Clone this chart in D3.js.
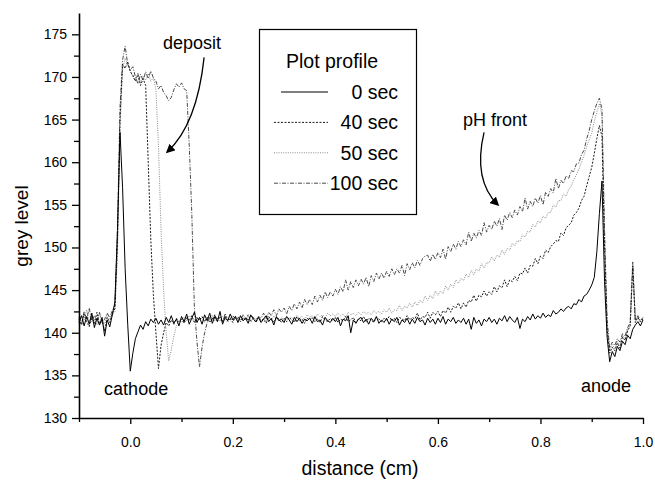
<!DOCTYPE html>
<html>
<head>
<meta charset="utf-8">
<script src="https://cdnjs.cloudflare.com/ajax/libs/d3/7.8.5/d3.min.js"></script>
<style>
	body { margin: 0; background: white; }
	text { font-family: "Liberation Sans", Arial, sans-serif; }
</style>
</head>
<body>
<div id="chart"></div>
<script>

// profiles are sampled from -0.1 cm every 0.005 cm (221 samples)
let distStart = -0.1
let distStep = 0.005

let grey0sec = [
	141.2, 142.0, 140.8, 141.9, 141.0, 142.3, 140.6, 141.7, 140.9, 141.8,
	139.6, 141.5, 140.7, 142.1, 143.6, 152.0, 163.5, 157.0, 147.5, 141.0,
	135.5, 137.6, 139.3, 140.1, 140.9, 140.4, 141.3, 140.8, 141.6, 141.2,
	141.7, 141.0, 141.5, 140.9, 141.8, 141.2, 142.0, 141.1, 141.6, 140.8,
	141.9, 141.3, 142.2, 141.0, 141.7, 142.4, 141.2, 141.8, 141.0, 142.1,
	141.4, 142.3, 141.1, 141.9, 141.3, 142.5, 141.0, 141.8, 141.4, 142.2,
	141.5, 141.9, 141.2, 142.0, 141.4, 141.7, 141.1, 142.1, 141.6, 141.3,
	141.8, 141.2, 141.6, 142.0, 141.3, 141.7, 140.9, 141.9, 141.4, 141.6,
	141.2, 141.9, 141.5, 141.0, 141.8, 141.3, 141.7, 141.1, 141.6, 141.4,
	141.7, 141.1, 141.9, 141.3, 141.5, 140.9, 141.8, 141.4, 141.2, 141.7,
	141.3, 141.8, 140.8, 141.6, 141.4, 142.0, 140.0, 141.5, 141.1, 141.6,
	141.8, 141.2, 141.6, 141.0, 141.7, 141.3, 141.9, 141.1, 141.5, 141.2,
	141.7, 141.0, 141.6, 141.3, 141.8, 140.9, 141.5, 141.2, 141.7, 141.0,
	141.6, 141.1, 141.8, 141.3, 141.5, 140.9, 141.7, 141.2, 141.6, 141.0,
	141.7, 141.2, 141.9, 141.0, 141.6, 141.3, 141.8, 141.1, 141.5, 141.2,
	141.7, 141.0, 141.6, 140.4, 141.8, 141.1, 141.5, 140.8, 141.6, 141.3,
	141.8, 141.2, 141.6, 141.0, 141.7, 141.4, 142.0, 141.3, 141.9, 141.5,
	141.2, 141.8, 140.5, 141.6, 141.3, 141.9, 141.5, 142.2, 141.6, 142.0,
	141.7, 142.3, 141.8, 142.1, 141.9, 142.6, 142.2, 142.4, 142.8, 142.5,
	142.9, 143.1, 142.8, 143.4, 143.3, 143.9, 143.6, 144.3, 144.5, 145.0,
	145.6, 146.5, 149.5, 154.0, 157.8, 146.0, 139.5, 136.6, 137.8, 137.2,
	138.4, 137.9, 139.0, 138.6, 139.7, 139.3, 140.4, 140.9, 141.3, 140.8,
	141.5
]

let grey40sec = [
	141.6, 140.9, 142.2, 141.3, 140.7, 141.9, 141.1, 142.4, 141.0, 141.5,
	140.2, 141.8, 141.2, 142.3, 142.8, 150.5, 165.0, 171.5, 171.0, 171.8,
	170.6, 170.2, 169.5, 170.3, 169.0, 169.8, 169.0, 160.0, 151.0, 144.5,
	140.0, 135.8, 138.5, 140.0, 141.2, 140.8, 141.5, 141.0, 141.7, 141.3,
	141.6, 141.1, 141.8, 141.4, 142.0, 141.2, 141.7, 141.5, 141.9, 141.3,
	141.8, 141.2, 141.6, 142.1, 141.4, 141.8, 141.3, 142.0, 141.5, 141.7,
	141.2, 141.9, 141.6, 141.3, 141.8, 141.5, 142.1, 141.4, 141.7, 141.2,
	141.8, 141.4, 141.6, 141.1, 141.9, 141.5, 141.3, 141.8, 141.6, 141.2,
	141.7, 141.3, 141.8, 141.5, 141.2, 141.9, 141.4, 141.6, 141.1, 141.7,
	141.5, 141.8, 141.3, 141.6, 141.2, 141.9, 141.5, 141.3, 141.7, 141.4,
	141.8, 141.2, 141.6, 141.4, 141.9, 141.3, 141.5, 141.8, 141.2, 141.6,
	141.4, 141.9, 141.3, 141.7, 141.5, 141.2, 141.8, 141.6, 141.3, 141.7,
	141.5, 141.9, 141.4, 141.7, 141.2, 141.8, 141.6, 141.4, 142.0, 141.5,
	141.8, 141.6, 142.3, 141.5, 141.9, 141.8, 142.4, 141.7, 142.4, 142.1,
	142.5, 141.9, 142.6, 142.3, 143.0, 142.4, 143.1, 142.9, 143.5, 142.8,
	143.5, 143.0, 143.8, 143.6, 144.4, 143.7, 144.4, 144.2, 144.9, 144.3,
	144.8, 144.5, 145.4, 144.8, 145.5, 145.3, 146.2, 145.4, 146.2, 146.0,
	146.6, 146.1, 147.0, 146.9, 147.6, 147.0, 147.9, 147.8, 148.7, 148.1,
	149.0, 148.7, 149.7, 149.4, 150.1, 150.4, 150.8, 150.7, 151.7, 151.4,
	152.3, 152.6, 152.9, 153.8, 154.1, 154.6, 155.5, 156.0, 157.2, 158.3,
	159.4, 161.0, 162.8, 164.3, 163.0, 150.0, 140.5, 137.6, 138.3, 137.9,
	138.8, 138.2, 139.5, 139.1, 140.2, 140.8, 147.8, 141.2, 141.8, 141.3,
	141.6
]

let grey50sec = [
	141.3, 142.0, 141.5, 142.7, 141.2, 142.1, 141.7, 140.9, 142.3, 141.4,
	141.0, 142.2, 141.5, 142.0, 142.5, 149.0, 164.0, 171.0, 172.2, 171.4,
	170.8, 170.0, 169.6, 170.5, 169.3, 170.1, 169.6, 170.4, 169.5, 169.9,
	168.5, 162.0, 152.0, 145.0, 140.0, 136.7, 138.0, 139.6, 140.8, 141.4,
	141.2, 141.8, 141.4, 142.0, 141.6, 141.3, 141.9, 141.5, 141.7, 141.2,
	141.8, 141.5, 142.1, 141.4, 141.7, 141.3, 141.9, 141.6, 141.2, 141.8,
	141.5, 141.7, 141.3, 141.9, 141.4, 141.8, 141.6, 141.2, 141.7, 141.5,
	141.9, 141.4, 141.7, 141.3, 141.8, 141.5, 142.0, 141.6, 141.4, 141.8,
	141.5, 141.9, 141.6, 141.8, 141.4, 142.0, 141.7, 141.9, 141.5, 142.1,
	141.8, 142.0, 141.6, 142.2, 141.9, 142.1, 141.8, 142.3, 142.0, 142.2,
	141.9, 142.3, 142.0, 142.2, 141.8, 142.4, 142.1, 142.3, 142.0, 142.4,
	142.1, 142.5, 142.2, 142.4, 142.1, 142.6, 142.3, 142.5, 142.2, 142.7,
	142.4, 142.9, 142.3, 142.7, 142.6, 143.2, 142.6, 143.1, 142.9, 143.5,
	143.0, 143.6, 143.2, 143.8, 143.5, 144.3, 143.8, 144.4, 144.0, 144.9,
	144.4, 144.9, 144.6, 145.5, 145.0, 145.7, 145.3, 146.2, 145.8, 146.4,
	146.1, 146.9, 146.5, 147.3, 146.8, 147.5, 147.2, 148.1, 147.6, 148.2,
	148.2, 148.9, 148.4, 149.1, 148.9, 149.7, 149.2, 149.9, 149.7, 150.5,
	150.2, 150.8, 150.7, 151.5, 151.2, 151.9, 151.8, 152.7, 152.4, 153.1,
	152.9, 153.7, 153.4, 154.1, 154.1, 155.0, 154.7, 155.5, 155.5, 156.3,
	156.0, 156.8, 157.2, 157.9, 158.5, 159.2, 160.0, 160.8, 161.8, 162.6,
	163.4, 164.8, 165.9, 166.9, 165.5, 151.0, 141.0, 137.9, 138.6, 138.1,
	139.0, 138.5, 139.7, 139.3, 140.4, 141.0, 148.0, 141.4, 141.9, 141.2,
	141.7
]

let grey100sec = [
	141.8, 141.0, 142.5, 141.6, 142.9, 141.3, 142.0, 141.5, 142.4, 141.1,
	141.6, 142.3, 141.8, 142.6, 143.2, 152.0, 166.5, 172.0, 173.6, 171.5,
	170.8, 171.2, 170.0, 169.2, 170.3, 169.6, 170.6, 169.8, 170.7, 169.9,
	169.5, 168.6, 169.0, 168.2, 167.8, 167.2, 167.6, 168.5, 169.2, 168.8,
	169.3, 168.6, 168.4, 162.0, 154.0, 143.0, 139.0, 136.0, 138.3, 140.0,
	141.2, 141.8, 141.4, 142.0, 141.6, 141.9, 141.3, 142.2, 141.7, 141.5,
	142.0, 141.6, 141.9, 141.4, 142.1, 141.7, 141.5, 142.0, 141.8, 141.6,
	141.9, 141.7, 142.3, 141.6, 142.4, 142.0, 142.7, 142.0, 142.8, 142.4,
	142.9, 142.2, 143.1, 142.6, 143.4, 142.8, 143.6, 142.9, 143.9, 143.3,
	143.9, 143.3, 144.3, 143.6, 144.4, 143.8, 144.8, 144.1, 144.8, 144.3,
	145.1, 144.5, 145.4, 144.8, 146.2, 145.0, 146.0, 145.3, 146.2, 145.5,
	146.3, 145.7, 146.5, 145.4, 146.7, 146.0, 147.0, 146.3, 147.0, 146.4,
	147.2, 146.6, 147.5, 146.8, 147.5, 147.0, 147.9, 146.7, 148.1, 147.4,
	148.2, 147.6, 148.5, 147.9, 148.7, 149.0, 149.1, 148.4, 149.2, 148.6,
	149.4, 148.8, 149.8, 148.6, 150.1, 149.5, 150.4, 149.8, 150.7, 150.1,
	150.9, 150.3, 151.8, 150.7, 151.7, 151.1, 152.0, 151.4, 152.9, 151.8,
	152.6, 152.1, 153.1, 152.5, 153.4, 152.1, 153.8, 153.2, 154.1, 153.5,
	154.4, 153.8, 154.8, 154.2, 155.8, 154.5, 155.4, 154.8, 155.8, 155.2,
	156.1, 155.0, 156.5, 156.0, 156.9, 156.4, 158.1, 156.9, 157.9, 157.5,
	158.4, 158.1, 159.0, 158.9, 159.8, 159.9, 160.9, 161.4, 162.7, 163.7,
	165.0, 166.0, 166.9, 167.5, 166.2, 152.0, 141.5, 138.2, 138.9, 138.5,
	139.3, 138.9, 139.9, 139.6, 140.6, 141.2, 148.3, 141.5, 142.0, 141.4,
	141.8
]

let seriesNames = ['0 sec', '40 sec', '50 sec', '100 sec']
let xTicks = [0.0, 0.2, 0.4, 0.6, 0.8, 1.0]
let xMinorTicks = [-0.1, 0.1, 0.3, 0.5, 0.7, 0.9]
let yTicks = [130, 135, 140, 145, 150, 155, 160, 165, 170, 175]
let yMinorTicks = [132.5, 137.5, 142.5, 147.5, 152.5, 157.5, 162.5, 167.5, 172.5]

// annotation anchors in data units
let notes = [
	{'text': 'deposit', 'x': 0.064, 'y': 173.3},
	{'text': 'pH front', 'x': 0.649, 'y': 164.2},
	{'text': 'cathode', 'x': -0.051, 'y': 132.7},
	{'text': 'anode', 'x': 0.879, 'y': 133.0}
]
let arrows = [
	[[0.144, 172.3], [0.130, 164.4], [0.072, 161.2]],
	[[0.690, 163.5], [0.668, 157.9], [0.717, 155.0]]
]

function createProfileChart(){

	let profiles = [grey0sec, grey40sec, grey50sec, grey100sec].map(function(vals, k){
		return {'name': seriesNames[k], 'points': vals.map((v, i) => [distStart + i * distStep, v])}
	})

	// line look per series: solid / dash / dot / dash-dot
	let styles = [
		{'color': '#000', 'dash': null, 'width': 1},
		{'color': '#1a1a1a', 'dash': '2,1.5', 'width': 1},
		{'color': '#8a8a8a', 'dash': '1,1.3', 'width': 1},
		{'color': '#4a4a4a', 'dash': '4,1.5,1,1.5', 'width': 1}
	]

	let width = 655
	let height = 481

	let xScale = d3.scaleLinear()
		.domain([-0.1, 1.0])
		.range([79, 643])

	let yScale = d3.scaleLinear()
		.domain([130, 177.5])
		.range([418, 13])

	const svg = d3.select('#chart')
		.append('svg')
		.attr('width', width)
		.attr('height', height)
		.style('background', 'white')

	let line = d3.line()
		.x(d => xScale(d[0]))
		.y(d => yScale(d[1]))

	// draw light ones first, solid on top
	let drawOrder = [2, 3, 1, 0]
	drawOrder.forEach(function(k){
		svg.append('path')
			.datum(profiles[k].points)
			.attr('d', line)
			.attr('fill', 'none')
			.attr('stroke', styles[k].color)
			.attr('stroke-width', styles[k].width)
			.attr('stroke-dasharray', styles[k].dash)
	})

	// axes
	svg.append('g')
		.attr('transform', 'translate(0,418)')
		.call(d3.axisBottom(xScale).tickValues(xTicks).tickSize(6).tickSizeOuter(0).tickPadding(13).tickFormat(d3.format('.1f')))
	svg.append('g')
		.attr('transform', 'translate(0,418)')
		.call(d3.axisBottom(xScale).tickValues(xMinorTicks).tickSize(4).tickFormat(''))
		.call(g => g.select('.domain').remove())

	svg.append('g')
		.attr('transform', 'translate(79,0)')
		.call(d3.axisLeft(yScale).tickValues(yTicks).tickSize(7).tickSizeOuter(0).tickPadding(5).tickFormat(d3.format('d')))
	svg.append('g')
		.attr('transform', 'translate(79,0)')
		.call(d3.axisLeft(yScale).tickValues(yMinorTicks).tickSize(5).tickFormat(''))
		.call(g => g.select('.domain').remove())

	svg.selectAll('.domain').attr('stroke', '#000').attr('stroke-width', 1.6)
	svg.selectAll('.tick line').attr('stroke', '#000').attr('stroke-width', 1.3)
	svg.selectAll('.tick text')
		.attr('fill', '#000')
		.attr('font-size', 14)
		.attr('font-family', '"Liberation Sans", Arial, sans-serif')

	svg.append('text')
		.attr('x', 360)
		.attr('y', 475)
		.attr('text-anchor', 'middle')
		.attr('font-size', 19.5)
		.text('distance (cm)')

	svg.append('text')
		.attr('transform', 'translate(28,226) rotate(-90)')
		.attr('text-anchor', 'middle')
		.attr('font-size', 19)
		.text('grey level')

	// legend
	let lg = svg.append('g')
	lg.append('rect')
		.attr('x', 259.5)
		.attr('y', 29.5)
		.attr('width', 157)
		.attr('height', 185)
		.attr('fill', 'white')
		.attr('stroke', '#000')
		.attr('stroke-width', 1.2)
	lg.append('text')
		.attr('x', 286)
		.attr('y', 68)
		.attr('font-size', 19.5)
		.text('Plot profile')

	seriesNames.forEach(function(name, k){
		let cy = 92 + k * 30.4
		lg.append('line')
			.attr('x1', k == 0 ? 281 : 274)
			.attr('x2', 328)
			.attr('y1', cy)
			.attr('y2', cy)
			.attr('stroke', styles[k].color)
			.attr('stroke-width', styles[k].width)
			.attr('stroke-dasharray', styles[k].dash)
		lg.append('text')
			.attr('x', 398)
			.attr('y', cy + 7)
			.attr('text-anchor', 'end')
			.attr('font-size', 19.5)
			.text(name)
	})

	// annotations
	svg.selectAll('.note')
		.data(notes)
		.enter()
		.append('text')
		.attr('class', 'note')
		.attr('x', d => xScale(d.x))
		.attr('y', d => yScale(d.y))
		.attr('font-size', 18)
		.text(d => d.text)

	svg.append('defs').append('marker')
		.attr('id', 'head')
		.attr('viewBox', '0 0 10 10')
		.attr('refX', 8)
		.attr('refY', 5)
		.attr('markerWidth', 9)
		.attr('markerHeight', 9)
		.attr('markerUnits', 'userSpaceOnUse')
		.attr('orient', 'auto')
		.append('path')
		.attr('d', 'M0,0 L10,5 L0,10 Z')
		.attr('fill', '#000')

	arrows.forEach(function(a){
		let p = a.map(d => [xScale(d[0]), yScale(d[1])])
		svg.append('path')
			.attr('d', `M${p[0][0]},${p[0][1]} Q${p[1][0]},${p[1][1]} ${p[2][0]},${p[2][1]}`)
			.attr('fill', 'none')
			.attr('stroke', '#000')
			.attr('stroke-width', 1.3)
			.attr('marker-end', 'url(#head)')
	})
}

createProfileChart()
</script>
</body>
</html>
